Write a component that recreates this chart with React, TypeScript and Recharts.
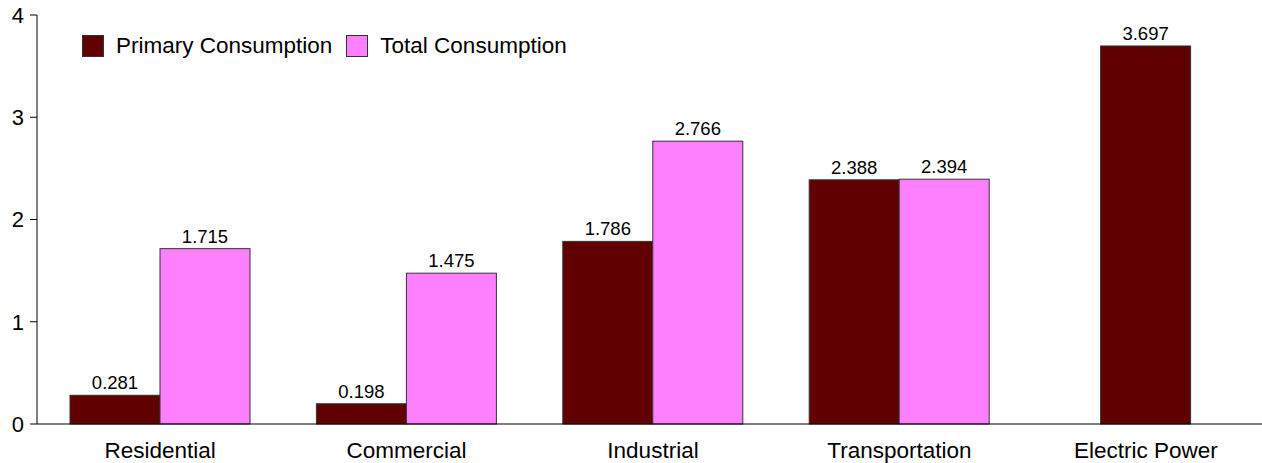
import React from "react";
import { BarChart, Bar, XAxis, YAxis, LabelList, Legend } from "recharts";

const categories = ["Residential", "Commercial", "Industrial", "Transportation", "Electric Power"];
const primaryValues: (number | null)[] = [0.281, 0.198, 1.786, 2.388, 3.697];
const totalValues: (number | null)[] = [1.715, 1.475, 2.766, 2.394, null];
const yTicks = [0, 1, 2, 3, 4];
const seriesNames = ["Primary Consumption", "Total Consumption"];
const seriesColors = ["#600000", "#ff80ff"];

const data = categories.map((c, i) => ({
  name: c,
  primary: primaryValues[i],
  total: totalValues[i],
}));

const FONT = "'Liberation Sans', Arial, sans-serif";

const PrimaryShape = (props: any) => {
  const { x, y, width, height, payload, fill } = props;
  const shift = payload && payload.total == null ? width / 2 : 0;
  return <rect x={x + shift} y={y} width={width} height={height} fill={fill} stroke="#333" strokeWidth={1} />;
};

const TotalShape = (props: any) => {
  const { x, y, width, height, fill } = props;
  return <rect x={x} y={y} width={width} height={height} fill={fill} stroke="#333" strokeWidth={1} />;
};

const makeLabel = (shiftWhenSingle: boolean) => (props: any) => {
  const { x, y, width, value, index } = props;
  if (value == null) return null;
  const single = shiftWhenSingle && data[index] && data[index].total == null;
  const cx = x + width / 2 + (single ? width / 2 : 0);
  return (
    <text x={cx} y={y - 6} textAnchor="middle" fontSize={18.5} fontFamily={FONT} fill="#000">
      {value.toFixed(3)}
    </text>
  );
};

const LegendContent = () => (
  <div style={{ display: "flex", alignItems: "center", fontFamily: FONT, fontSize: 22.5, color: "#000", whiteSpace: "nowrap" }}>
    {seriesNames.map((n, i) => (
      <div key={n} style={{ display: "flex", alignItems: "center", marginRight: 14 }}>
        <span
          style={{
            display: "inline-block",
            width: 20,
            height: 20,
            background: seriesColors[i],
            border: "1px solid #333",
            marginRight: 12,
          }}
        />
        <span>{n}</span>
      </div>
    ))}
  </div>
);

export default function App() {
  return (
    <div style={{ position: "absolute", left: 0, top: 0, width: 1262, height: 463, overflow: "hidden", background: "#fff" }}>
      <BarChart
        width={1269}
        height={463}
        data={data}
        margin={{ top: 15, right: 0, left: 0, bottom: 0 }}
        barGap={0}
        barSize={90}
      >
        <XAxis
          dataKey="name"
          height={39}
          tickLine={false}
          tickSize={0}
          tickMargin={18}
          axisLine={{ stroke: "#000", strokeWidth: 1 }}
          tick={{ fontSize: 22.5, fontFamily: FONT, fill: "#000" }}
          interval={0}
        />
        <YAxis
          width={37}
          domain={[0, 4]}
          ticks={yTicks}
          tickSize={7}
          tickMargin={6}
          axisLine={{ stroke: "#000", strokeWidth: 1 }}
          tickLine={{ stroke: "#000", strokeWidth: 1 }}
          tick={{ fontSize: 22, fontFamily: FONT, fill: "#000" }}
        />
        <Legend
          verticalAlign="middle"
          align="center"
          content={<LegendContent />}
          wrapperStyle={{ top: 33, left: 82, width: "auto", height: "auto" }}
        />
        <Bar dataKey="primary" name={seriesNames[0]} fill={seriesColors[0]} shape={<PrimaryShape />} isAnimationActive={false}>
          <LabelList dataKey="primary" content={makeLabel(true)} />
        </Bar>
        <Bar dataKey="total" name={seriesNames[1]} fill={seriesColors[1]} shape={<TotalShape />} isAnimationActive={false}>
          <LabelList dataKey="total" content={makeLabel(false)} />
        </Bar>
      </BarChart>
    </div>
  );
}
